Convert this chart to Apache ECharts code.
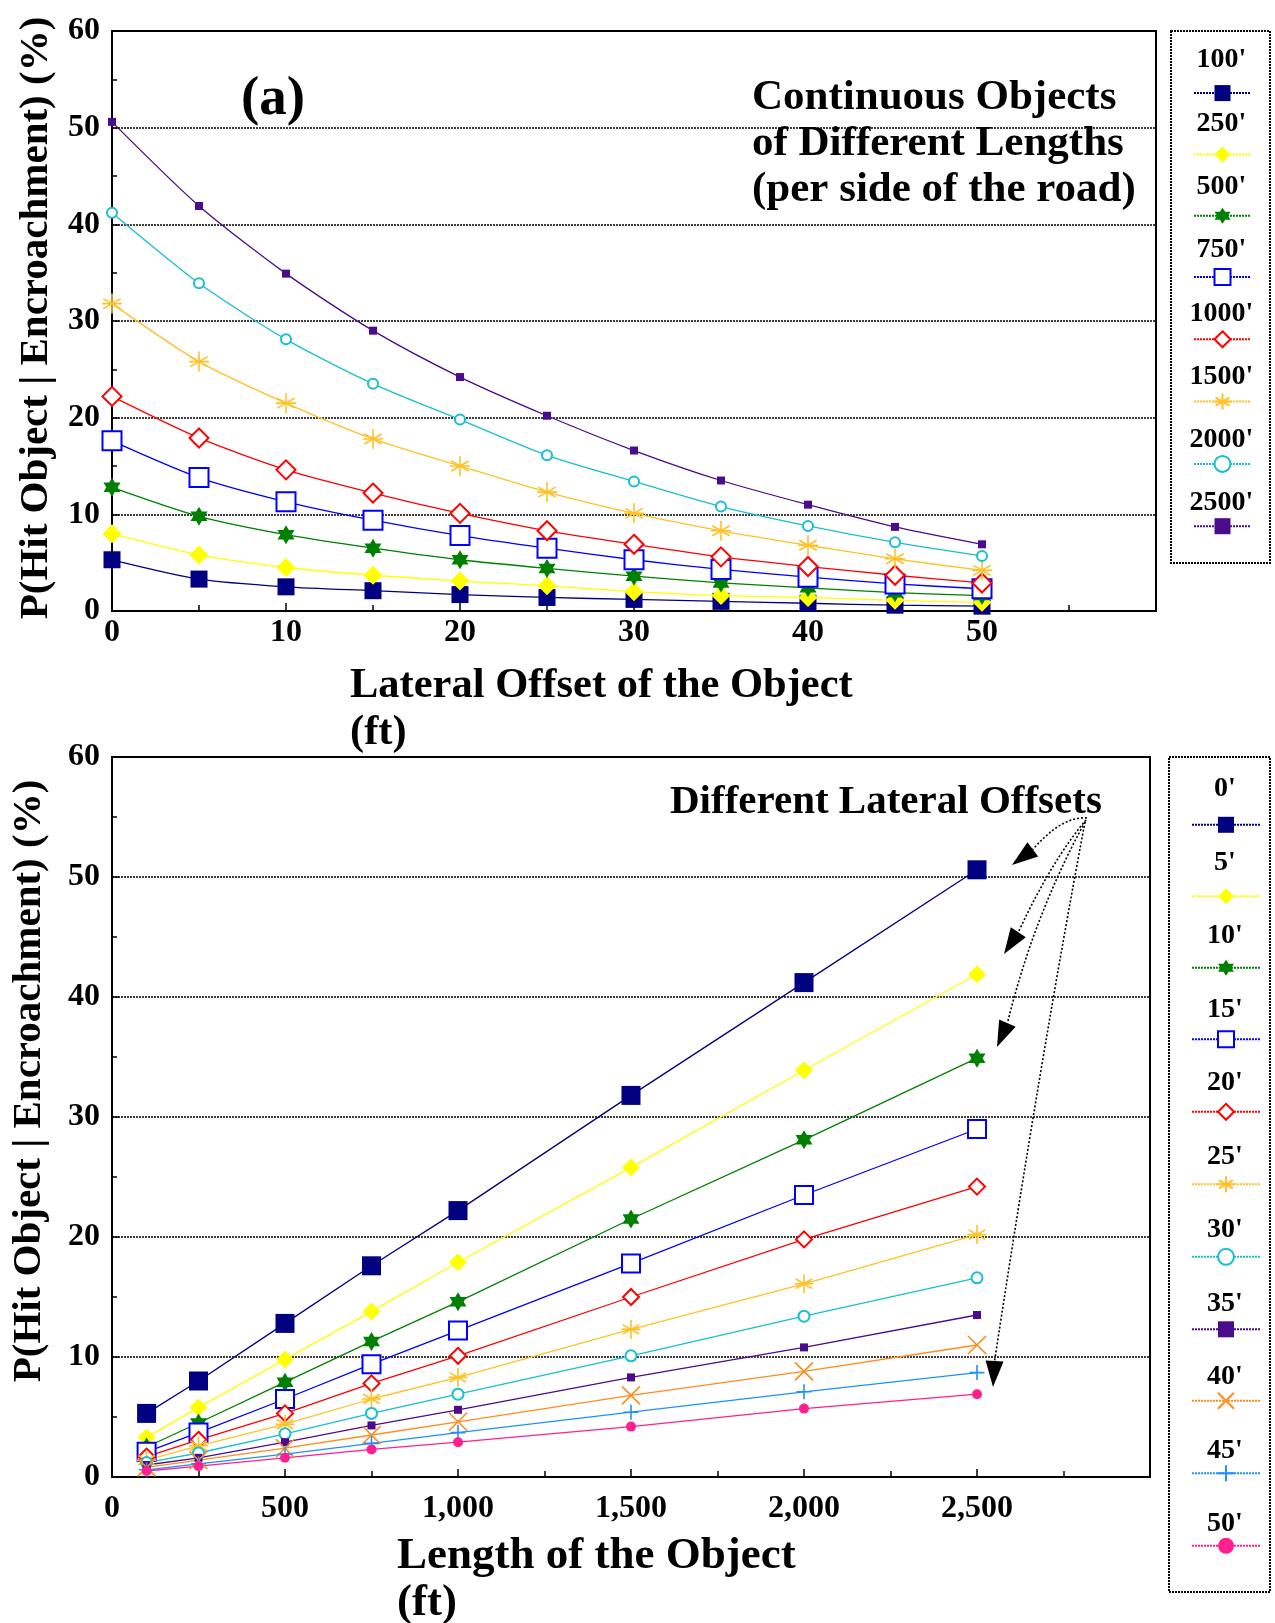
<!DOCTYPE html>
<html><head><meta charset="utf-8">
<script src="https://cdn.jsdelivr.net/npm/echarts@6/dist/echarts.min.js"></script>
<style>html,body{margin:0;padding:0;background:#fff}#chart{width:1275px;height:1623px}</style>
</head><body><div id="chart"></div>
<script>
// ---- data ----
const offsets = [0, 5, 10, 15, 20, 25, 30, 35, 40, 45, 50];          // lateral offset (ft)
const lengths = [100, 250, 500, 750, 1000, 1500, 2000, 2500];       // object length (ft)
// P(Hit Object | Encroachment) (%) for each length, across the offsets
const len100  = [5.3, 3.3, 2.5, 2.1, 1.7, 1.4, 1.2, 1.0, 0.8, 0.6, 0.5];
const len250  = [8.0, 5.8, 4.5, 3.7, 3.1, 2.6, 2.0, 1.6, 1.4, 1.1, 0.9];
const len500  = [12.8, 9.8, 7.9, 6.5, 5.3, 4.4, 3.6, 2.9, 2.4, 1.9, 1.6];
const len750  = [17.6, 13.8, 11.3, 9.4, 7.8, 6.5, 5.3, 4.3, 3.5, 2.8, 2.3];
const len1000 = [22.2, 17.9, 14.6, 12.2, 10.1, 8.3, 6.9, 5.6, 4.6, 3.7, 2.9];
const len1500 = [31.8, 25.8, 21.5, 17.8, 15.0, 12.3, 10.1, 8.3, 6.8, 5.4, 4.2];
const len2000 = [41.2, 33.9, 28.1, 23.5, 19.8, 16.1, 13.4, 10.8, 8.8, 7.1, 5.7];
const len2500 = [50.6, 41.9, 34.9, 29.0, 24.2, 20.2, 16.6, 13.5, 11.0, 8.7, 6.9];
const lengthNames = ["100'", "250'", "500'", "750'", "1000'", "1500'", "2000'", "2500'"];
const offsetNames = ["0'", "5'", "10'", "15'", "20'", "25'", "30'", "35'", "40'", "45'", "50'"];
const yTicks = [0, 10, 20, 30, 40, 50, 60];

// ---- styles ----
const STAR = 'path://M10,0L12.89,5L18.66,5L15.77,10L18.66,15L12.89,15L10,20L7.11,15L1.34,15L4.23,10L1.34,5L7.11,5Z';
const AST = 'path://M10,0L10,20M1.34,5L18.66,15M18.66,5L1.34,15M0,10L20,10';
const XS = 'path://M0,0L20,20M20,0L0,20';
const PLUS = 'path://M10,0L10,20M0,10L20,10';
const C = {navy:'#000080', yellow:'#ffff00', green:'#008000', blue:'#0000ff', red:'#ff0000',
  gold:'#ffc125', cyan:'#17bfd3', purple:'#4b0c8c', orange:'#ff8c1a', sky:'#1e90ff', pink:'#ff1f8f'};
const topStyles = [
  {c:C.navy, s:'rect', z:17, k:'fill'}, {c:C.yellow, s:'diamond', z:19, k:'fill'},
  {c:C.green, s:STAR, z:[17,19], k:'fill'}, {c:C.blue, s:'emptyRect', z:19, k:'empty'},
  {c:C.red, s:'emptyDiamond', z:19, k:'empty'}, {c:C.gold, s:AST, z:20, k:'stroke'},
  {c:C.cyan, s:'emptyCircle', z:10, k:'empty'}, {c:C.purple, s:'rect', z:8, k:'fill'}];
const botStyles = [
  {c:C.navy, s:'rect', z:19, k:'fill'}, {c:C.yellow, s:'diamond', z:18, k:'fill'},
  {c:C.green, s:STAR, z:[17,19], k:'fill'}, {c:C.blue, s:'emptyRect', z:18, k:'empty'},
  {c:C.red, s:'emptyDiamond', z:16, k:'empty'}, {c:C.gold, s:AST, z:19, k:'stroke'},
  {c:C.cyan, s:'emptyCircle', z:11, k:'empty'}, {c:C.purple, s:'rect', z:8, k:'fill'},
  {c:C.orange, s:XS, z:18, k:'stroke'}, {c:C.sky, s:PLUS, z:15, k:'stroke'},
  {c:C.pink, s:'circle', z:10, k:'fill'}];

function styleOf(st) {
  const o = {symbol: st.s, symbolSize: st.z, lineStyle: {color: st.c, width: 1.3}};
  if (st.k === 'fill') o.itemStyle = {color: st.c};
  else if (st.k === 'empty') o.itemStyle = {color: st.c, borderWidth: 1.6};
  else o.itemStyle = {color: 'rgba(0,0,0,0)', borderColor: st.c, borderWidth: 1.6};
  return o;
}

const lengthSeries = [len100, len250, len500, len750, len1000, len1500, len2000, len2500];
const series = [];
lengthSeries.forEach((arr, i) => {
  series.push(Object.assign({
    name: lengthNames[i], type: 'line', xAxisIndex: 0, yAxisIndex: 0, smooth: 0.25,
    data: offsets.map((o, k) => [o, arr[k]]), animation: false
  }, styleOf(topStyles[i])));
});
offsets.forEach((o, k) => {
  series.push(Object.assign({
    name: offsetNames[k], type: 'line', xAxisIndex: 1, yAxisIndex: 1,
    data: lengths.map((L, i) => [L, lengthSeries[i][k]]), animation: false
  }, styleOf(botStyles[k])));
});

const SERIF = '"Liberation Serif", "DejaVu Serif", serif';
const tickFont = {fontFamily: SERIF, fontWeight: 'bold', fontSize: 32, color: '#000'};
const dotted = {type: [2, 1], color: '#000', width: 1.6};

function yAxis(gridIndex, gap, pad) {
  return {
    gridIndex, type: 'value', min: yTicks[0], max: yTicks[yTicks.length - 1], interval: 10,
    name: 'P(Hit Object | Encroachment) (%)', nameLocation: 'middle', nameRotate: 90, nameGap: gap,
    nameTextStyle: {fontFamily: SERIF, fontWeight: 'bold', fontSize: 41, color: '#000', padding: pad},
    axisLine: {show: true, lineStyle: {color: '#000', width: 2}},
    axisTick: {show: true, inside: true, length: 7, lineStyle: {color: '#000', width: 1.5}},
    minorTick: {show: true, splitNumber: 2, length: 5, lineStyle: {color: '#000', width: 1.5}},
    splitLine: {show: true, lineStyle: dotted},
    axisLabel: Object.assign({margin: 12}, tickFont)
  };
}

// legend geometry
const topIcon0 = 93.1, topStep = 63.3, botIcon0 = 824.8, botStep = 73.5;
const graphics = [];
graphics.push({type: 'rect', shape: {x: 1171, y: 31, width: 99, height: 532},
  style: {fill: 'none', stroke: '#000', lineWidth: 2, lineDash: [2, 1]}});
graphics.push({type: 'rect', shape: {x: 1169, y: 757, width: 101, height: 835},
  style: {fill: 'none', stroke: '#000', lineWidth: 2, lineDash: [2, 1]}});
lengthNames.forEach((n, i) => graphics.push({type: 'text', style: {
  text: n, x: 1221.5, y: topIcon0 + i * topStep - 33, align: 'center', verticalAlign: 'middle',
  textAlign: 'center', textVerticalAlign: 'middle', font: 'bold 28px ' + SERIF, fill: '#000'}}));
offsetNames.forEach((n, i) => graphics.push({type: 'text', style: {
  text: n, x: 1225, y: botIcon0 + i * botStep - 36, align: 'center', verticalAlign: 'middle',
  textAlign: 'center', textVerticalAlign: 'middle', font: 'bold 28px ' + SERIF, fill: '#000'}}));
// annotation arrows
const arrows = [
  {from: [1087, 818], cp: [1062, 816], tip: [1012, 865], d: [-0.8, 0.6]},
  {from: [1086, 820], cp: [1052, 860], tip: [1004, 954], d: [-0.55, 0.835]},
  {from: [1085, 822], cp: [1034, 915], tip: [997, 1047], d: [-0.4, 0.917]},
  {from: [1085, 822], cp: [1042, 1050], tip: [993, 1387], d: [-0.06, 0.998]}
];
arrows.forEach(a => {
  const L = 26, W = 9;
  const bx = a.tip[0] - L * a.d[0], by = a.tip[1] - L * a.d[1];
  const px = -a.d[1], py = a.d[0];
  graphics.push({type: 'bezierCurve', shape: {x1: a.from[0], y1: a.from[1], cpx1: a.cp[0], cpy1: a.cp[1], x2: bx, y2: by},
    style: {stroke: '#000', lineWidth: 1.6, lineDash: [2, 2], fill: 'none'}});
  graphics.push({type: 'polygon', shape: {points: [a.tip, [bx + W * px, by + W * py], [bx - W * px, by - W * py]]},
    style: {fill: '#000'}});
});

const option = {
  backgroundColor: '#fff',
  animation: false,
  title: [
    {text: '(a)', left: 241, top: 72, padding: 0,
      textStyle: {fontFamily: SERIF, fontWeight: 'bold', fontSize: 55, color: '#000'}},
    {text: 'Continuous Objects\nof Different Lengths\n(per side of the road)', left: 752, top: 75, padding: 0,
      textStyle: {fontFamily: SERIF, fontWeight: 'bold', fontSize: 43, lineHeight: 46, color: '#000'}},
    {text: 'Lateral Offset of the Object\n(ft)', left: 350, top: 663, padding: 0,
      textStyle: {fontFamily: SERIF, fontWeight: 'bold', fontSize: 42.5, lineHeight: 47, color: '#000'}},
    {text: 'Different Lateral Offsets', left: 670, top: 782, padding: 0,
      textStyle: {fontFamily: SERIF, fontWeight: 'bold', fontSize: 41, lineHeight: 41, color: '#000'}},
    {text: 'Length of the Object\n(ft)', left: 397, top: 1533, padding: 0,
      textStyle: {fontFamily: SERIF, fontWeight: 'bold', fontSize: 45, lineHeight: 47, color: '#000'}}
  ],
  grid: [
    {left: 112, top: 31, width: 1044, height: 580, show: true, borderColor: '#000', borderWidth: 2, containLabel: false},
    {left: 112, top: 757, width: 1038, height: 720, show: true, borderColor: '#000', borderWidth: 2, containLabel: false}
  ],
  xAxis: [
    {gridIndex: 0, type: 'value', min: 0, max: 60, interval: 10,
      axisLine: {lineStyle: {color: '#000', width: 2}},
      axisTick: {inside: true, length: 8, lineStyle: {color: '#000', width: 1.5}},
      minorTick: {show: true, splitNumber: 2, length: 6, lineStyle: {color: '#000', width: 1.5}},
      splitLine: {show: false},
      axisLabel: Object.assign({margin: 6, formatter: v => v === 60 ? '' : String(v)}, tickFont)},
    {gridIndex: 1, type: 'value', min: 0, max: 3000, interval: 500,
      axisLine: {lineStyle: {color: '#000', width: 2}},
      axisTick: {inside: true, length: 8, lineStyle: {color: '#000', width: 1.5}},
      minorTick: {show: true, splitNumber: 2, length: 6, lineStyle: {color: '#000', width: 1.5}},
      splitLine: {show: false},
      axisLabel: Object.assign({margin: 16, formatter: v => v === 3000 ? '' : v.toLocaleString('en-US')}, tickFont)}
  ],
  yAxis: [yAxis(0, 46, [0, 0, 0, 6]), yAxis(1, 62, [0, 0, 0, 72])],
  legend: [
    {data: lengthNames, orient: 'vertical', left: 1193, top: topIcon0 - 10, padding: 0,
      itemWidth: 57, itemHeight: 20, itemGap: topStep - 20, selectedMode: false,
      formatter: () => '', textStyle: {fontSize: 8},
      lineStyle: {type: [2, 1]}},
    {data: offsetNames, orient: 'vertical', left: 1191, top: botIcon0 - 10, padding: 0,
      itemWidth: 68, itemHeight: 20, itemGap: botStep - 20, selectedMode: false,
      formatter: () => '', textStyle: {fontSize: 8},
      lineStyle: {type: [2, 1]}}
  ],
  graphic: graphics,
  series
};
const chart = echarts.init(document.getElementById('chart'), null, {renderer: 'canvas'});
chart.setOption(option);
</script></body></html>
